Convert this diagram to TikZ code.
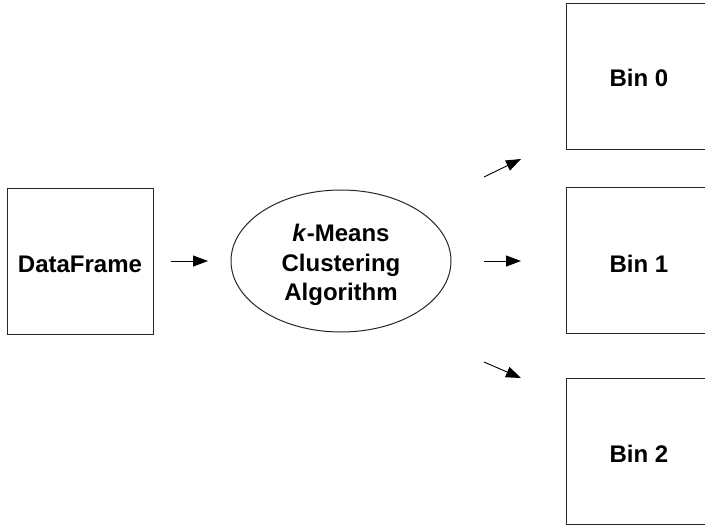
\documentclass[tikz,border=0pt]{standalone}
\usepackage{fontspec}
\setmainfont{Liberation Sans}
\usetikzlibrary{arrows.meta,shapes.geometric}
\begin{document}
\begin{tikzpicture}[x=1pt,y=-1pt,
  box/.style={draw=black!85,line width=1pt,rectangle,minimum width=146pt,minimum height=146pt,inner sep=0pt},
  algo/.style={draw=black!85,line width=1pt,ellipse,minimum width=220pt,minimum height=142pt,inner sep=0pt},
  lbl/.style={font=\fontsize{24}{29.5}\selectfont\bfseries,align=center,inner sep=0pt},
  arr/.style={line width=0.9pt,-{Triangle[length=15pt,width=11pt]}}]
\useasboundingbox (0,0) rectangle (705,528);
\clip (0,0) rectangle (705,528);
\node[box] (df) at (80,261) {};
\node[lbl,anchor=base] (dft) at (80,272) {DataFrame};
\node[algo] (km) at (341,261) {};
\node[lbl] (kmt) at (341,265) {\textit{k}-Means\\Clustering\\Algorithm};
\node[box] (b0) at (639,76) {};
\node[lbl,anchor=base] (b0t) at (639,86) {Bin 0};
\node[box] (b1) at (639,260) {};
\node[lbl,anchor=base] (b1t) at (639,272) {Bin 1};
\node[box] (b2) at (639,451) {};
\node[lbl,anchor=base] (b2t) at (639,462) {Bin 2};
\coordinate (a1s) at (171,261); \coordinate (a1e) at (208,261);
\coordinate (a2s) at (484,177); \coordinate (a2e) at (521,159);
\coordinate (a3s) at (484,261); \coordinate (a3e) at (521,261);
\coordinate (a4s) at (484,362); \coordinate (a4e) at (521,378);
\draw[arr] (a1s) -- (a1e);
\draw[arr] (a2s) -- (a2e);
\draw[arr] (a3s) -- (a3e);
\draw[arr] (a4s) -- (a4e);
\end{tikzpicture}
\end{document}
